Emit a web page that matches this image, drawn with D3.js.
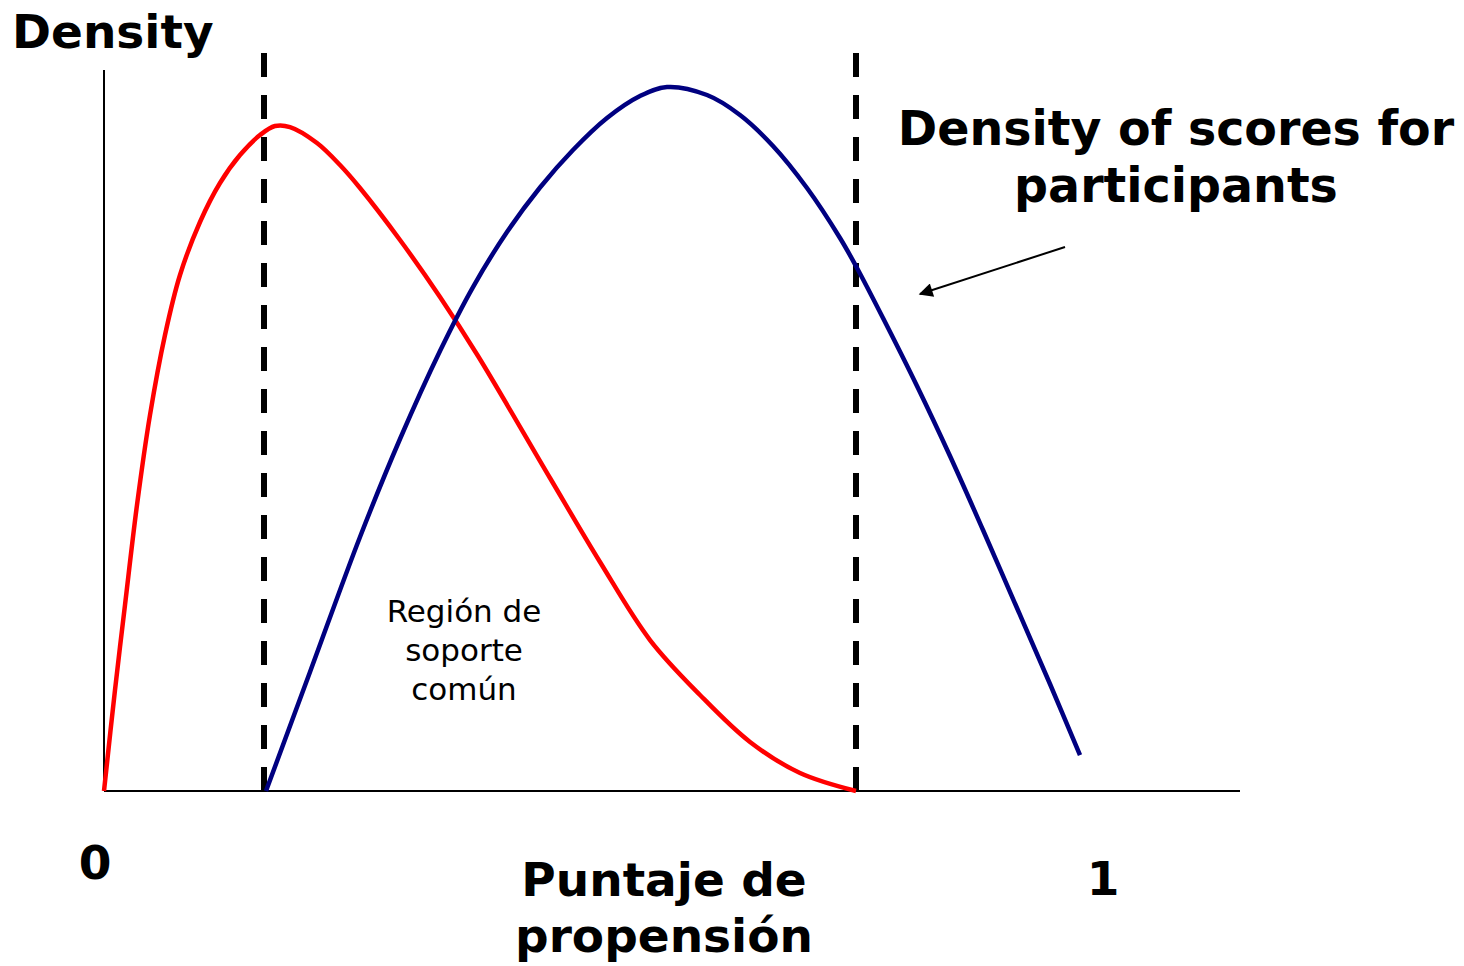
<!DOCTYPE html>
<html>
<head>
<meta charset="utf-8">
<script src="https://cdn.jsdelivr.net/npm/d3@7"></script>
<style>
  html, body { margin: 0; padding: 0; background: #fff; }
  svg { display: block; }
  text { font-family: Verdana, "DejaVu Sans", sans-serif; fill: #000; }
</style>
</head>
<body>
<svg id="chart" width="1464" height="966"></svg>
<script>
// ---- data (propensity score, density) ----
const redScore   = [0, .011, .021, .033, .046, .061, .076, .096, .116, .136, .156, .171, .186, .213, .236, .256, .296, .336, .374, .446, .496, .546, .596, .646, .696, .752];
const redDensity = [0, .1401, .2580, .3967, .5215, .6325, .7157, .7892, .8433, .8821, .9098, .9223, .9209, .8988, .8682, .8363, .7642, .6852, .6033, .4341, .3176, .2094, .1332, .0680, .0250, 0];

const blueScore   = [.162, .206, .256, .296, .336, .369, .403, .436, .469, .503, .536, .563, .603, .636, .669, .703, .736, .753, .779, .813, .846, .879, .913, .946, .976];
const blueDensity = [0, .1650, .3523, .4882, .6103, .6990, .7753, .8370, .8890, .9334, .9639, .9764, .9653, .9376, .8946, .8363, .7670, .7254, .6560, .5617, .4646, .3620, .2538, .1484, .0499];

const supportBounds = [.160, .752];
const tickLabels = [{v: 0, label: "0"}, {v: 1, label: "1"}];
const regionLabel = ["Región de", "soporte", "común"];
const groupLabel = ["Density of scores for", "participants"];
const xTitle = ["Puntaje de", "propensión"];
const yTitle = "Density";

// ---- scales ----
const svg = d3.select("#chart");
const x = d3.scaleLinear().domain([0, 1.136]).range([104, 1240]);
const y = d3.scaleLinear().domain([0, 1]).range([791, 70]);

// defs: arrow marker
svg.append("defs").append("marker")
  .attr("id", "arrowhead")
  .attr("viewBox", "0 0 10 10")
  .attr("refX", 9).attr("refY", 5)
  .attr("markerWidth", 18).attr("markerHeight", 14)
  .attr("markerUnits", "userSpaceOnUse")
  .attr("orient", "auto")
  .append("path").attr("d", "M0,0 L10,5 L0,10 Z").attr("fill", "#000");

// axes
svg.append("line")
  .attr("x1", x(0)).attr("x2", x(0))
  .attr("y1", y(1)).attr("y2", y(0))
  .attr("stroke", "#000").attr("stroke-width", 2);
svg.append("line")
  .attr("x1", x(0)).attr("x2", x(1.136))
  .attr("y1", y(0)).attr("y2", y(0))
  .attr("stroke", "#000").attr("stroke-width", 2);

// dashed support bounds
svg.selectAll("line.bound").data(supportBounds).enter().append("line")
  .attr("class", "bound")
  .attr("x1", d => x(d)).attr("x2", d => x(d))
  .attr("y1", y(1.0236)).attr("y2", y(0))
  .attr("stroke", "#000").attr("stroke-width", 6)
  .attr("stroke-dasharray", "24,18");

// curves
const line = d3.line().x(d => x(d[0])).y(d => y(d[1])).curve(d3.curveCatmullRom.alpha(0.5));
const redData = redScore.map((s, i) => [s, redDensity[i]]);
const blueData = blueScore.map((s, i) => [s, blueDensity[i]]);

svg.append("path").datum(redData)
  .attr("d", line).attr("fill", "none")
  .attr("stroke", "#ff0000").attr("stroke-width", 4.5);
svg.append("path").datum(blueData)
  .attr("d", line).attr("fill", "none")
  .attr("stroke", "#000080").attr("stroke-width", 4.5);

// arrow annotation
svg.append("line")
  .attr("x1", x(.961)).attr("y1", y(.7545))
  .attr("x2", x(.816)).attr("y2", y(.6893))
  .attr("stroke", "#000").attr("stroke-width", 2)
  .attr("marker-end", "url(#arrowhead)");

// texts
svg.append("text").attr("x", 12).attr("y", 48)
  .attr("font-size", 47).attr("font-weight", "bold").text(yTitle);

svg.append("text").attr("text-anchor", "middle").attr("font-size", 47.5).attr("font-weight", "bold")
  .selectAll("tspan").data(groupLabel).enter().append("tspan")
  .attr("x", 1176).attr("y", (d, i) => 145 + i * 57).text(d => d);

svg.append("text").attr("text-anchor", "middle").attr("font-size", 47).attr("font-weight", "bold")
  .selectAll("tspan").data(xTitle).enter().append("tspan")
  .attr("x", 664).attr("y", (d, i) => 896 + i * 56).text(d => d);

svg.selectAll("text.tick").data(tickLabels).enter().append("text")
  .attr("class", "tick")
  .attr("text-anchor", "middle").attr("font-size", 47).attr("font-weight", "bold")
  .attr("x", d => d.v === 0 ? x(0) - 9 : x(1) - 1)
  .attr("y", d => d.v === 0 ? 879 : 895)
  .text(d => d.label);

svg.append("text").attr("text-anchor", "middle").attr("font-size", 31)
  .selectAll("tspan").data(regionLabel).enter().append("tspan")
  .attr("x", 464).attr("y", (d, i) => 622 + i * 39).text(d => d);
</script>
</body>
</html>
